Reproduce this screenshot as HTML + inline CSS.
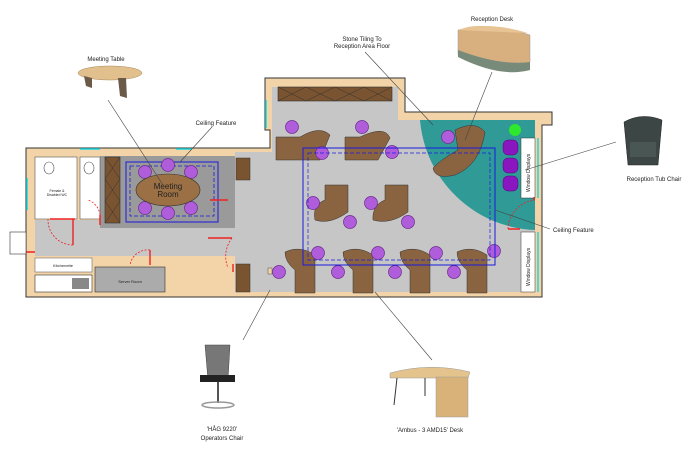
<!DOCTYPE html>
<html><head><meta charset="utf-8"><style>
html,body{margin:0;padding:0;background:#fff;width:700px;height:449px;overflow:hidden}
svg{font-family:"Liberation Sans",sans-serif;font-size:6px}
text{fill:#222}
</style></head><body>
<svg width="700" height="449" viewBox="0 0 700 449" xmlns="http://www.w3.org/2000/svg">
<defs>
<g id="ch"><circle r="6.5" fill="#b05ddc" stroke="#6a2c8c" stroke-width="0.7"/></g>
</defs>
<path d="M26 148 H270 V130 H265 V78 H405 V112 H552 V125 H542 V297 H26 Z" fill="#f3d4a8" stroke="#333" stroke-width="1"/>
<rect x="35" y="220" width="240" height="36" fill="#c6c6c6"/>
<rect x="100" y="156" width="135" height="72" fill="#9a9a9a"/>
<rect x="235" y="152" width="40" height="140" fill="#c6c6c6"/>
<rect x="272" y="87" width="126" height="205" fill="#c6c6c6"/>
<rect x="398" y="120" width="137" height="172" fill="#c6c6c6"/>
<path d="M420 120 H535 V230 A120 120 0 0 1 420 120 Z" fill="#2f9a96"/>
<rect x="35" y="157" width="42" height="62" fill="#fff" stroke="#555" stroke-width="0.6"/>
<rect x="80" y="157" width="20" height="62" fill="#fff" stroke="#555" stroke-width="0.6"/>
<ellipse cx="49" cy="168" rx="5" ry="6" fill="#fff" stroke="#555" stroke-width="0.6"/>
<ellipse cx="89" cy="168" rx="5" ry="6" fill="#fff" stroke="#555" stroke-width="0.6"/>
<text x="57" y="192" font-size="3.5" text-anchor="middle">Female &amp;</text>
<text x="57" y="196" font-size="3.5" text-anchor="middle">Disabled WC</text>
<rect x="35" y="258" width="57" height="14" fill="#fff" stroke="#555" stroke-width="0.5"/>
<text x="63" y="267" font-size="4" text-anchor="middle">Kitchenette</text>
<rect x="35" y="275" width="57" height="17" fill="#fff" stroke="#333" stroke-width="0.6"/>
<rect x="72" y="278" width="17" height="11" fill="#888"/>
<rect x="95" y="267" width="70" height="25" fill="#ababab" stroke="#333" stroke-width="0.6"/>
<text x="130" y="283" font-size="4" text-anchor="middle">Server Room</text>
<rect x="105" y="157" width="15" height="66" fill="#7a5430" stroke="#333" stroke-width="0.6"/>
<path d="M105 157 L120 179 M120 157 L105 179 M105 179 L120 201 M120 179 L105 201 M105 201 L120 223 M120 201 L105 223" stroke="#333" stroke-width="0.5"/>
<rect x="126" y="162" width="92" height="60" fill="none" stroke="#1a1ae0" stroke-width="1"/>
<rect x="130" y="166" width="84" height="50" fill="none" stroke="#1a1ae0" stroke-width="0.8" stroke-dasharray="4 2"/>
<use href="#ch" x="145" y="172"/><use href="#ch" x="168" y="165"/><use href="#ch" x="191" y="172"/>
<use href="#ch" x="145" y="208"/><use href="#ch" x="168" y="213"/><use href="#ch" x="191" y="208"/>
<ellipse cx="168" cy="190" rx="32" ry="16" fill="#9b7045" stroke="#333" stroke-width="0.6"/>
<text x="168" y="189" font-size="8" text-anchor="middle">Meeting</text>
<text x="168" y="197" font-size="8" text-anchor="middle">Room</text>
<rect x="236" y="158" width="14" height="22" fill="#7a5430" stroke="#333" stroke-width="0.5"/>
<rect x="236" y="264" width="14" height="28" fill="#7a5430" stroke="#333" stroke-width="0.5"/>
<rect x="278" y="87" width="114" height="14" fill="#7a5430" stroke="#333" stroke-width="0.6"/>
<path d="M278 87 L306 101 M306 87 L278 101 M306 87 L335 101 M335 87 L306 101 M335 87 L364 101 M364 87 L335 101 M364 87 L392 101 M392 87 L364 101" stroke="#333" stroke-width="0.5"/>
<rect x="268" y="268" width="4" height="6" fill="#f3d4a8" stroke="#333" stroke-width="0.4"/>
<g fill="#8a6440" stroke="#333" stroke-width="0.5">
<path d="M276 137 H300 Q320 125 330 135 L320 160 H276 Z"/>
<path d="M345 137 H360 Q385 125 390 138 L378 160 H345 Z"/>
<path d="M325 185 H348 V212 Q330 225 315 220 Q312 205 325 200 Z"/>
<path d="M385 185 H408 V212 Q390 225 373 220 Q372 205 385 200 Z"/>
<path d="M285 252 Q300 245 315 255 V293 H295 V270 Q285 262 285 252 Z"/>
<path d="M343 252 Q358 245 373 255 V293 H353 V270 Q343 262 343 252 Z"/>
<path d="M400 252 Q415 245 430 255 V293 H410 V270 Q400 262 400 252 Z"/>
<path d="M457 252 Q472 245 487 255 V293 H467 V270 Q457 262 457 252 Z"/>
<path d="M455 130 Q475 120 485 132 Q480 165 455 175 Q435 180 433 168 Q440 160 458 150 Z"/>
</g>
<use href="#ch" x="292" y="127"/><use href="#ch" x="322" y="153"/>
<use href="#ch" x="362" y="127"/><use href="#ch" x="392" y="152"/>
<use href="#ch" x="313" y="203"/><use href="#ch" x="350" y="222"/>
<use href="#ch" x="371" y="203"/><use href="#ch" x="408" y="222"/>
<use href="#ch" x="318" y="253"/><use href="#ch" x="279" y="272"/>
<use href="#ch" x="378" y="253"/><use href="#ch" x="338" y="272"/>
<use href="#ch" x="436" y="253"/><use href="#ch" x="395" y="272"/>
<use href="#ch" x="494" y="251"/><use href="#ch" x="454" y="272"/>
<use href="#ch" x="448" y="137"/>
<rect x="303" y="148" width="192" height="117" fill="none" stroke="#1a1ae0" stroke-width="1"/>
<rect x="308" y="153" width="182" height="107" fill="none" stroke="#1a1ae0" stroke-width="0.7" stroke-dasharray="4 2"/>
<circle cx="515" cy="130" r="6" fill="#2ee82e"/>
<rect x="503" y="140" width="15" height="15" rx="5" fill="#8a16c0" stroke="#4a0a70" stroke-width="0.5"/>
<rect x="503" y="158" width="15" height="15" rx="5" fill="#8a16c0" stroke="#4a0a70" stroke-width="0.5"/>
<rect x="503" y="176" width="15" height="15" rx="5" fill="#8a16c0" stroke="#4a0a70" stroke-width="0.5"/>
<rect x="521" y="138" width="14" height="60" fill="#fff" stroke="#333" stroke-width="0.5"/>
<rect x="521" y="232" width="14" height="60" fill="#fff" stroke="#333" stroke-width="0.5"/>
<text transform="translate(530,192) rotate(-90)" font-size="5">Window Displays</text>
<text transform="translate(530,286) rotate(-90)" font-size="5">Window Displays</text>
<line x1="538" y1="138" x2="538" y2="198" stroke="#19d8e0" stroke-width="1.5"/>
<line x1="538" y1="232" x2="538" y2="292" stroke="#19d8e0" stroke-width="1.5"/>
<line x1="27" y1="178" x2="27" y2="210" stroke="#19d8e0" stroke-width="1.5"/>
<line x1="80" y1="149" x2="100" y2="149" stroke="#19d8e0" stroke-width="1.5"/>
<line x1="176" y1="149" x2="192" y2="149" stroke="#19d8e0" stroke-width="1.5"/>
<line x1="266" y1="100" x2="266" y2="128" stroke="#19d8e0" stroke-width="1.5"/>
<g stroke="#e22" stroke-width="1.4" fill="none">
<path d="M50 219 H75 M73 219 V245 M100 225 V215 M210 200 H228 M208 238 H232 M150 250 V265 M233 264 V272 M508 229 H520 M534 197 V200"/>
<path d="M73 245 A25 25 0 0 1 48 219 M100 215 A18 18 0 0 0 88 200 M150 250 A18 18 0 0 0 130 265 M232 238 A30 30 0 0 0 228 268 M508 229 A30 30 0 0 1 535 200" stroke-dasharray="2 1.5" stroke-width="0.8"/>
<path d="M12 252 H35"/>
</g>
<rect x="10" y="232" width="16" height="22" fill="#fff" stroke="#333" stroke-width="0.6"/>
<g stroke="#444" stroke-width="0.6">
<line x1="108" y1="100" x2="163" y2="185"/>
<line x1="212" y1="127" x2="180" y2="162"/>
<line x1="365" y1="52" x2="433" y2="125"/>
<line x1="492" y1="72" x2="465" y2="140"/>
<line x1="616" y1="142" x2="525" y2="170"/>
<line x1="550" y1="229" x2="495" y2="210"/>
<line x1="270" y1="290" x2="243" y2="340"/>
<line x1="375" y1="292" x2="432" y2="360"/>
</g>
<ellipse cx="110" cy="73" rx="32" ry="7" fill="#e2c08e" stroke="#a88858" stroke-width="0.5"/>
<path d="M84 76 L92 78 L92 88 L86 86 Z M118 78 L126 78 L127 98 L120 96 Z" fill="#6b5a48"/>
<path d="M458 30 Q490 22 530 35 V62 Q500 75 458 55 Z" fill="#d8b080" stroke="#999" stroke-width="0.5"/>
<path d="M458 30 Q470 25 485 26 Q505 26 528 33 Q500 32 458 30 Z" fill="#e8c494"/>
<path d="M458 50 Q500 66 530 62 V70 Q500 78 458 57 Z" fill="#788a7a"/>
<path d="M624 122 Q642 112 662 120 L658 165 H628 Z" fill="#3c4644" stroke="#222" stroke-width="0.5"/>
<rect x="630" y="142" width="26" height="15" fill="#4a5654"/>
<path d="M205 345 H230 L228 380 H208 Z" fill="#777" stroke="#444" stroke-width="0.5"/>
<rect x="200" y="375" width="35" height="7" fill="#222"/>
<line x1="218" y1="382" x2="218" y2="403" stroke="#555" stroke-width="2"/>
<ellipse cx="218" cy="405" rx="16" ry="3" fill="none" stroke="#999" stroke-width="1.5"/>
<path d="M390 373 Q430 362 470 372 L468 378 H390 Z" fill="#e4c48c" stroke="#999" stroke-width="0.5"/>
<rect x="436" y="377" width="32" height="40" fill="#d9b27a" stroke="#999" stroke-width="0.5"/>
<line x1="397" y1="378" x2="394" y2="405" stroke="#333" stroke-width="1"/>
<line x1="425" y1="378" x2="425" y2="396" stroke="#333" stroke-width="1"/>
<text x="106" y="61" text-anchor="middle">Meeting Table</text>
<text x="216" y="125" text-anchor="middle">Ceiling Feature</text>
<text x="362" y="41" text-anchor="middle">Stone Tiling To</text>
<text x="362" y="48" text-anchor="middle">Reception Area Floor</text>
<text x="492" y="21" text-anchor="middle">Reception Desk</text>
<text x="654" y="181" text-anchor="middle">Reception Tub Chair</text>
<text x="553" y="232">Ceiling Feature</text>
<text x="222" y="431" text-anchor="middle">'HÅG 9220'</text>
<text x="222" y="440" text-anchor="middle">Operators Chair</text>
<text x="430" y="432" text-anchor="middle">'Ambus - 3 AMD15' Desk</text>
</svg>
</body></html>
